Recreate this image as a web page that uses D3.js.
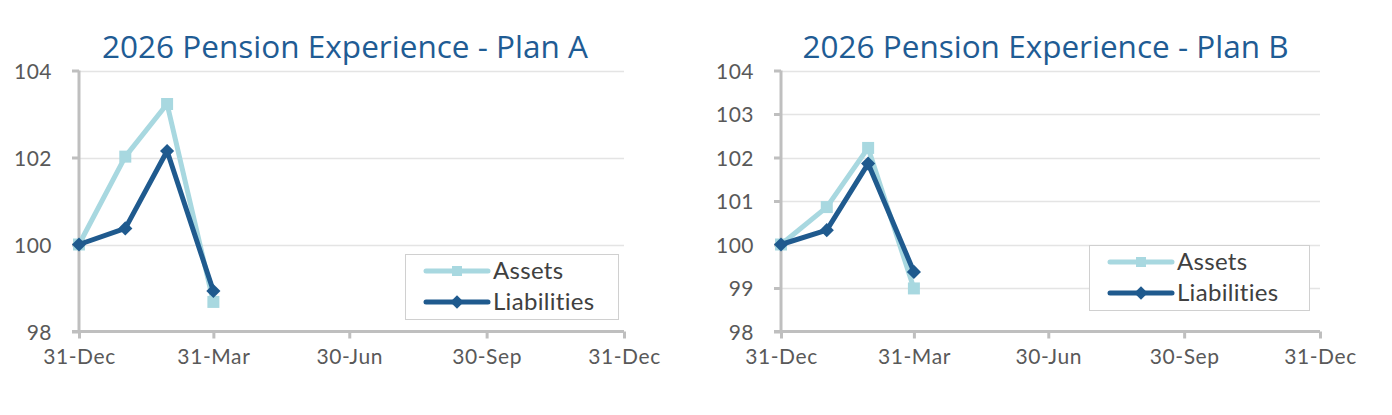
<!DOCTYPE html>
<html>
<head>
<meta charset="utf-8">
<script src="https://cdn.jsdelivr.net/npm/d3@7"></script>
<style>
  html, body { margin: 0; padding: 0; background: #fff; }
  svg { display: block; }
</style>
</head>
<body>
<svg id="chart" width="1392" height="415"></svg>
<script>
// ---- Data ----
const dates = ["2025-12-31", "2026-01-31", "2026-02-28", "2026-03-31"];
const xTickDates = ["2025-12-31", "2026-03-31", "2026-06-30", "2026-09-30", "2026-12-31"];
const xTickLabels = ["31-Dec", "31-Mar", "30-Jun", "30-Sep", "31-Dec"];
const seriesNames = ["Assets", "Liabilities"];

const titleA = "2026 Pension Experience - Plan A";
const assetsA = [100, 102.02, 103.23, 98.68];
const liabilitiesA = [100, 100.37, 102.15, 98.93];
const yTicksA = [98, 100, 102, 104];

const titleB = "2026 Pension Experience - Plan B";
const assetsB = [100, 100.86, 102.22, 98.99];
const liabilitiesB = [100, 100.33, 101.86, 99.37];
const yTicksB = [98, 99, 100, 101, 102, 103, 104];

// ---- Rendering ----
const parse = d3.timeParse("%Y-%m-%d");
const svg = d3.select("#chart");
const colors = { Assets: "#A8D8E0", Liabilities: "#1F5A8E" };
const tickFont = "Lato, 'Open Sans', sans-serif";

function drawPanel(opts) {
  const g = svg.append("g");
  const x = d3.scaleTime()
    .domain([parse(xTickDates[0]), parse(xTickDates[xTickDates.length - 1])])
    .range([opts.left, opts.right]);
  const y = d3.scaleLinear().domain([98, 104]).range([331.5, 70.5]);

  // Title
  g.append("text")
    .attr("x", opts.titleX).attr("y", 57.5)
    .attr("text-anchor", "middle")
    .attr("font-family", "'Open Sans', 'Noto Sans', sans-serif")
    .attr("font-size", 31.5)
    .attr("textLength", 486).attr("lengthAdjust", "spacingAndGlyphs")
    .attr("fill", "#1F5C94")
    .text(opts.title);

  // Gridlines
  g.append("g").selectAll("line")
    .data(opts.yTicks.filter(v => v !== 98))
    .join("line")
    .attr("x1", opts.left).attr("x2", opts.right)
    .attr("y1", d => Math.round(y(d)) + 0.5).attr("y2", d => Math.round(y(d)) + 0.5)
    .attr("stroke", "#E4E4E4").attr("stroke-width", 1.5);

  // Y axis
  const yAxis = d3.axisLeft(y).tickValues(opts.yTicks).tickSize(7).tickPadding(20)
    .tickFormat(d3.format("d"));
  const ya = g.append("g").attr("transform", `translate(${opts.left},0)`).call(yAxis);
  ya.select(".domain").attr("stroke", "#BFBFBF").attr("stroke-width", 3)
    .attr("d", `M0,${y(104)}V${y(98)}`);
  ya.selectAll(".tick line").attr("stroke", "#BFBFBF").attr("stroke-width", 3);
  ya.selectAll(".tick text").attr("font-family", tickFont).attr("font-size", 21)
    .attr("letter-spacing", 0.5)
    .attr("fill", "#595959").attr("dy", "0.36em");

  // X axis
  const xAxis = d3.axisBottom(x).tickValues(xTickDates.map(parse)).tickSize(7).tickPadding(11)
    .tickFormat((d, i) => xTickLabels[i]);
  const xa = g.append("g").attr("transform", `translate(0,${y(98)})`).call(xAxis);
  xa.select(".domain").attr("stroke", "#BFBFBF").attr("stroke-width", 3)
    .attr("d", `M${opts.left - 7},0H${opts.right}`);
  xa.selectAll(".tick line").attr("stroke", "#BFBFBF").attr("stroke-width", 3);
  xa.selectAll(".tick text").attr("font-family", tickFont).attr("font-size", 21)
    .attr("letter-spacing", 0.6)
    .attr("fill", "#595959");

  const series = [
    { name: "Assets", values: opts.assets, marker: "square" },
    { name: "Liabilities", values: opts.liabilities, marker: "diamond" }
  ];
  const line = d3.line().x((d, i) => x(parse(dates[i]))).y(d => y(d));
  series.forEach(s => {
    g.append("path").datum(s.values)
      .attr("d", line).attr("fill", "none")
      .attr("stroke", colors[s.name]).attr("stroke-width", 5)
      .attr("stroke-linejoin", "round");
    g.append("g").selectAll("path")
      .data(s.values)
      .join("path")
      .attr("transform", (d, i) => `translate(${x(parse(dates[i]))},${y(d)})` + (s.marker === "diamond" ? " rotate(45)" : ""))
      .attr("d", d3.symbol().type(d3.symbolSquare).size(s.marker === "square" ? 144 : 100)())
      .attr("fill", colors[s.name]);
  });

  // Legend
  const lg = g.append("g");
  lg.append("rect")
    .attr("x", opts.legend.x + 0.5).attr("y", opts.legend.y + 0.5)
    .attr("width", opts.legend.w).attr("height", opts.legend.h)
    .attr("fill", "#fff").attr("stroke", "#D0D0D0").attr("stroke-width", 1);
  series.forEach((s, i) => {
    const ly = opts.legend.y + 17 + i * 31;
    const lx0 = opts.legend.x + 21, lx1 = opts.legend.x + 83;
    lg.append("line").attr("x1", lx0).attr("x2", lx1).attr("y1", ly).attr("y2", ly)
      .attr("stroke", colors[s.name]).attr("stroke-width", 5).attr("stroke-linecap", "round");
    lg.append("path")
      .attr("transform", `translate(${(lx0 + lx1) / 2},${ly})` + (s.marker === "diamond" ? " rotate(45)" : ""))
      .attr("d", d3.symbol().type(d3.symbolSquare).size(s.marker === "square" ? 100 : 90)())
      .attr("fill", colors[s.name]);
    lg.append("text")
      .attr("x", lx1 + 5).attr("y", ly).attr("dy", "0.35em")
      .attr("font-family", tickFont).attr("font-size", 24).attr("fill", "#404040")
      .attr("letter-spacing", 0.3)
      .text(s.name);
  });
}

drawPanel({
  left: 79, right: 624, titleX: 345, title: titleA,
  assets: assetsA, liabilities: liabilitiesA, yTicks: yTicksA,
  legend: { x: 405, y: 254, w: 213, h: 65 }
});
drawPanel({
  left: 781, right: 1320, titleX: 1045.5, title: titleB,
  assets: assetsB, liabilities: liabilitiesB, yTicks: yTicksB,
  legend: { x: 1089, y: 245, w: 220, h: 65 }
});
</script>
</body>
</html>
